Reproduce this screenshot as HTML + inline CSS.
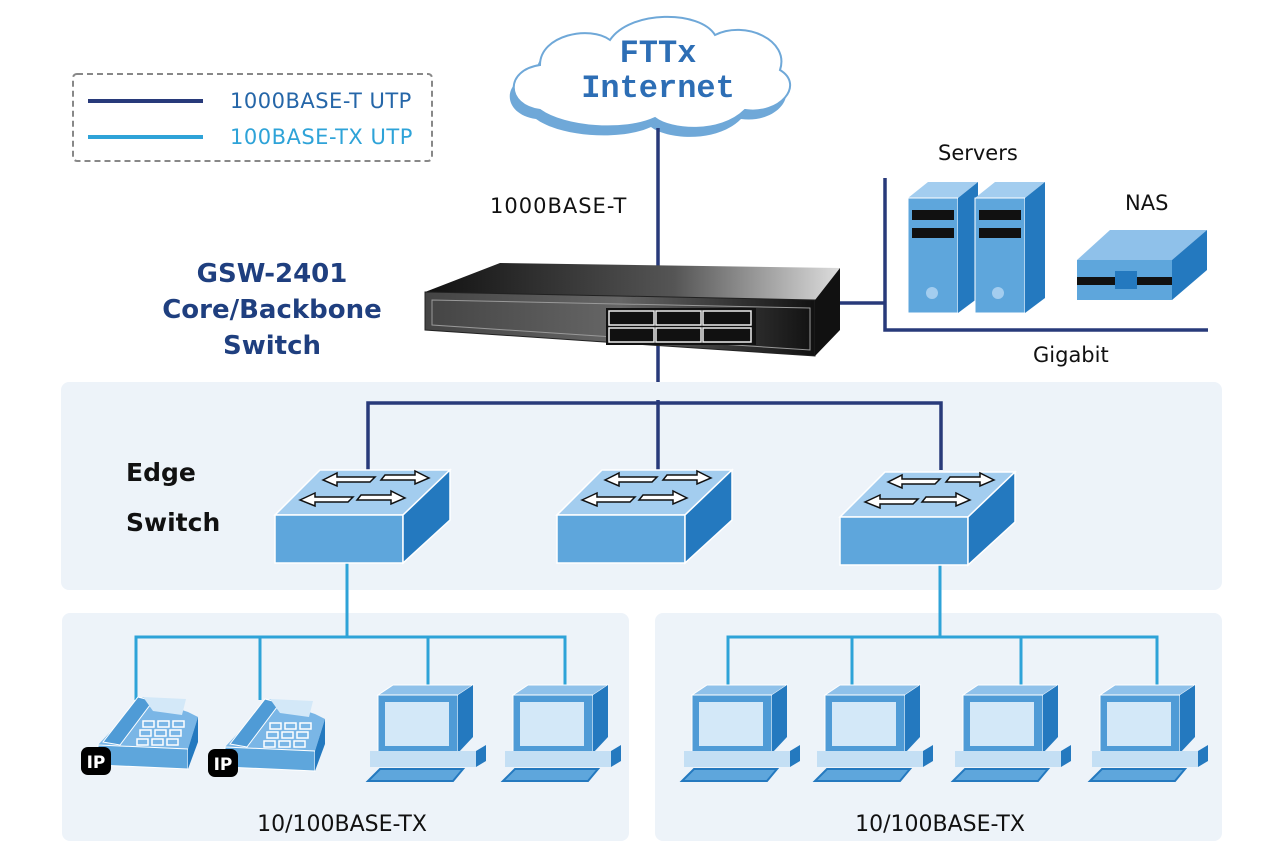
<!DOCTYPE html>
<html><head><meta charset="utf-8"><style>
html,body{margin:0;padding:0;background:#fff}
svg{display:block}
text{font-family:"DejaVu Sans","Liberation Sans",sans-serif}
</style></head><body>
<svg width="1281" height="856" viewBox="0 0 1281 856" xmlns="http://www.w3.org/2000/svg">
<defs>
 <linearGradient id="sw" x1="0" x2="1" y1="0" y2="0"><stop offset="0" stop-color="#111"/><stop offset="0.6" stop-color="#555"/><stop offset="1" stop-color="#ddd"/></linearGradient>
 <linearGradient id="swf" x1="0" x2="1"><stop offset="0" stop-color="#444"/><stop offset="0.5" stop-color="#666"/><stop offset="1" stop-color="#111"/></linearGradient>
 <g id="esw">
  <polygon points="0,45 45,0 175,0 128,45" fill="#a3cdef" stroke="#fff" stroke-width="1.5"/>
  <polygon points="0,45 128,45 128,93 0,93" fill="#5ea6dc" stroke="#fff" stroke-width="1.5"/>
  <polygon points="128,45 175,0 175,50 128,93" fill="#2479bf" stroke="#fff" stroke-width="1.5"/>
  <g fill="#fff" stroke="#111" stroke-width="1.5">
   <polygon points="48,10 62,3 62,7 100,7 95,12 62,12 62,16"/>
   <polygon points="154,8 140,1 140,5 110,5 106,10 140,10 140,14"/>
   <polygon points="25,30 40,23 40,27 78,27 73,32 40,32 40,36"/>
   <polygon points="130,28 116,21 116,25 86,25 82,30 116,30 116,34"/>
  </g>
 </g>
 <g id="pc">
  <polygon points="0,10 15,0 95,0 80,10" fill="#8fc1ea" stroke="#fff"/>
  <rect x="0" y="10" width="80" height="58" fill="#4f9bd6" stroke="#fff"/>
  <rect x="7" y="17" width="64" height="44" fill="#d3e8f8"/>
  <polygon points="80,10 95,0 95,52 80,68" fill="#2479bf"/>
  <polygon points="-8,66 98,66 98,82 -8,82" fill="#c4dff4"/>
  <polygon points="98,66 108,60 108,76 98,82" fill="#2479bf"/>
  <polygon points="-10,96 2,84 85,84 75,96" fill="#5ea6dc" stroke="#2479bf" stroke-width="2"/>
 </g>
 <g id="ph">
  <polygon points="0,48 45,0 90,15 100,20 90,52" fill="#7ab6e6"/>
  <polygon points="0,48 90,52 90,72 0,68" fill="#5ea6dc" stroke="#fff"/>
  <polygon points="90,52 100,20 100,45 90,72" fill="#2479bf"/>
  <polygon points="5,45 40,0 55,4 22,48" fill="#4f9bd6" stroke="#fff"/>
  <polygon points="45,0 88,2 84,18 55,14" fill="#d3e8f8"/>
  <g fill="none" stroke="#fff" stroke-width="1.5">
   <rect x="45" y="24" width="11" height="6"/><rect x="60" y="24" width="11" height="6"/><rect x="75" y="24" width="11" height="6"/>
   <rect x="42" y="33" width="11" height="6"/><rect x="57" y="33" width="11" height="6"/><rect x="72" y="33" width="11" height="6"/>
   <rect x="39" y="42" width="11" height="6"/><rect x="54" y="42" width="11" height="6"/><rect x="69" y="42" width="11" height="6"/>
  </g>
  <rect x="-17" y="50" width="30" height="28" rx="7" fill="#000"/>
  <text x="-2" y="71" text-anchor="middle" font-weight="bold" font-size="17" fill="#fff">IP</text>
 </g>
</defs>

<!-- legend -->
<rect x="73" y="74" width="359" height="87" rx="4" fill="none" stroke="#888" stroke-width="2" stroke-dasharray="6,4"/>
<line x1="88" y1="101" x2="203" y2="101" stroke="#283a7a" stroke-width="4"/>
<line x1="88" y1="137" x2="203" y2="137" stroke="#2ea3d8" stroke-width="4"/>
<text x="230" y="108" font-size="21" letter-spacing="0.5" fill="#2566a8">1000BASE-T UTP</text>
<text x="230" y="144" font-size="21" letter-spacing="0.5" fill="#2ea3d8">100BASE-TX UTP</text>

<!-- cloud -->
<g transform="translate(-4,9)">
<path d="M540,110 C505,105 505,70 540,65 C540,35 590,25 610,40 C630,10 700,10 715,35 C745,20 790,40 780,70 C805,85 780,115 745,110 C720,135 670,130 655,118 C625,132 565,128 540,110Z" fill="#6fa8d8"/>
</g>
<path d="M540,110 C505,105 505,70 540,65 C540,35 590,25 610,40 C630,10 700,10 715,35 C745,20 790,40 780,70 C805,85 780,115 745,110 C720,135 670,130 655,118 C625,132 565,128 540,110Z" fill="#fff" stroke="#6fa8d8" stroke-width="2"/>
<text x="658" y="62" text-anchor="middle" style="font-family:'Liberation Mono',monospace" font-weight="bold" font-size="32" fill="#2d6eb5">FTTx</text>
<text x="658" y="97" text-anchor="middle" style="font-family:'Liberation Mono',monospace" font-weight="bold" font-size="32" fill="#2d6eb5">Internet</text>

<!-- backbone lines -->
<line x1="658" y1="128" x2="658" y2="403" stroke="#283a7a" stroke-width="3.5"/>
<text x="490" y="213" font-size="21" letter-spacing="1" fill="#111">1000BASE-T</text>
<text x="272" y="282" text-anchor="middle" font-weight="bold" font-size="26" fill="#1f3f7f">GSW-2401</text>
<text x="272" y="318" text-anchor="middle" font-weight="bold" font-size="26" fill="#1f3f7f">Core/Backbone</text>
<text x="272" y="354" text-anchor="middle" font-weight="bold" font-size="26" fill="#1f3f7f">Switch</text>

<!-- server connection -->
<polyline points="840,303 885,303" stroke="#283a7a" stroke-width="3.5" fill="none"/>
<polyline points="885,178 885,330 1208,330" stroke="#283a7a" stroke-width="3.5" fill="none"/>

<!-- core switch -->
<polygon points="425,292 500,263 840,268 815,300" fill="url(#sw)"/>
<polygon points="425,292 815,300 815,356 425,330" fill="url(#swf)" stroke="#222"/>
<polygon points="432,300 810,308 810,350 432,325" fill="none" stroke="#999" stroke-width="1"/>
<polygon points="815,300 840,268 840,330 815,356" fill="#111"/>
<rect x="606" y="308" width="150" height="37" fill="#111"/>
<g stroke="#eee" stroke-width="1.5" fill="none">
 <rect x="609" y="311" width="45" height="14"/><rect x="656" y="311" width="45" height="14"/><rect x="703" y="311" width="48" height="14"/>
 <rect x="609" y="328" width="45" height="14"/><rect x="656" y="328" width="45" height="14"/><rect x="703" y="328" width="48" height="14"/>
</g>

<!-- servers -->
<g>
 <polygon points="908,198 928,182 978,182 958,198" fill="#a3cdef"/>
 <rect x="908" y="198" width="50" height="115" fill="#5ea6dc" stroke="#fff"/>
 <polygon points="958,198 978,182 978,298 958,313" fill="#2479bf"/>
 <rect x="912" y="210" width="42" height="10" fill="#111"/><rect x="912" y="228" width="42" height="10" fill="#111"/>
 <circle cx="932" cy="293" r="6" fill="#a3cdef"/>
 <polygon points="975,198 995,182 1045,182 1025,198" fill="#a3cdef"/>
 <rect x="975" y="198" width="50" height="115" fill="#5ea6dc" stroke="#fff"/>
 <polygon points="1025,198 1045,182 1045,298 1025,313" fill="#2479bf"/>
 <rect x="979" y="210" width="42" height="10" fill="#111"/><rect x="979" y="228" width="42" height="10" fill="#111"/>
 <circle cx="998" cy="293" r="6" fill="#a3cdef"/>
</g>
<polygon points="1077,260 1110,230 1207,230 1172,260" fill="#8fc1ea"/>
<rect x="1077" y="260" width="95" height="40" fill="#5ea6dc"/>
<polygon points="1172,260 1207,230 1207,270 1172,300" fill="#2479bf"/>
<rect x="1077" y="277" width="95" height="8" fill="#111"/>
<rect x="1115" y="271" width="22" height="18" fill="#2479bf"/>
<text x="938" y="160" font-size="21" fill="#111">Servers</text>
<text x="1125" y="210" font-size="21" fill="#111">NAS</text>
<text x="1033" y="362" font-size="21" fill="#111">Gigabit</text>

<!-- panels -->
<rect x="61" y="382" width="1161" height="208" rx="8" fill="#edf3f9"/>
<rect x="62" y="613" width="567" height="228" rx="8" fill="#edf3f9"/>
<rect x="655" y="613" width="567" height="228" rx="8" fill="#edf3f9"/>

<polyline points="368,470 368,403 941,403 941,470" stroke="#283a7a" stroke-width="3.5" fill="none"/>
<line x1="658" y1="400" x2="658" y2="470" stroke="#283a7a" stroke-width="3.5"/>
<text x="126" y="481" font-weight="bold" font-size="25" fill="#111">Edge</text>
<text x="126" y="531" font-weight="bold" font-size="25" fill="#111">Switch</text>

<!-- light lines -->
<g stroke="#2ea3d8" stroke-width="3" fill="none">
 <line x1="347" y1="563" x2="347" y2="637"/>
 <polyline points="136,700 136,637 565,637 565,690"/>
 <line x1="260" y1="637" x2="260" y2="700"/>
 <line x1="428" y1="637" x2="428" y2="690"/>
 <line x1="940" y1="563" x2="940" y2="637"/>
 <polyline points="728,690 728,637 1157,637 1157,690"/>
 <line x1="852" y1="637" x2="852" y2="690"/>
 <line x1="1021" y1="637" x2="1021" y2="690"/>
</g>

<use href="#esw" x="275" y="470"/>
<use href="#esw" x="557" y="470"/>
<use href="#esw" x="840" y="472"/>

<use href="#ph" x="98" y="697"/>
<use href="#ph" x="225" y="699"/>
<use href="#pc" x="378" y="685"/>
<use href="#pc" x="513" y="685"/>
<use href="#pc" x="692" y="685"/>
<use href="#pc" x="825" y="685"/>
<use href="#pc" x="963" y="685"/>
<use href="#pc" x="1100" y="685"/>

<text x="342" y="831" text-anchor="middle" font-size="22" fill="#111">10/100BASE-TX</text>
<text x="940" y="831" text-anchor="middle" font-size="22" fill="#111">10/100BASE-TX</text>
</svg>
</body></html>
